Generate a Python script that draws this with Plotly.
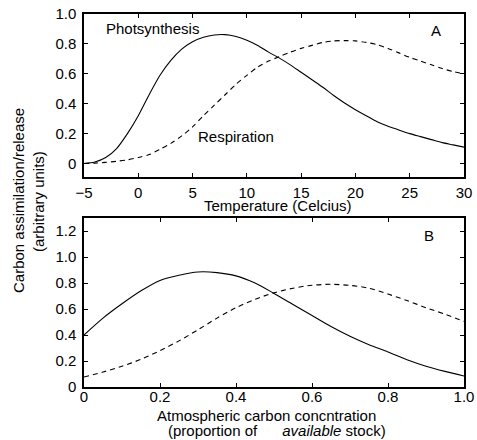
import plotly.graph_objects as go

# ---- Panel A data (temperature) ----
temperature = [-5, -4, -3, -2, -1, 0, 1, 2, 3, 4, 5, 6, 7, 8, 9, 10, 11, 12, 13, 14, 15,
               16, 17, 18, 19, 20, 21, 22, 23, 24, 25, 26, 27, 28, 29, 30]
photosynthesis_A = [0.0, 0.01, 0.04, 0.10, 0.20, 0.32, 0.46, 0.59, 0.69, 0.765, 0.815, 0.845,
                    0.86, 0.862, 0.85, 0.825, 0.79, 0.745, 0.705, 0.66, 0.61, 0.56, 0.51,
                    0.455, 0.405, 0.36, 0.32, 0.28, 0.25, 0.225, 0.20, 0.18, 0.16, 0.14,
                    0.125, 0.11]
respiration_A = [0.0, 0.003, 0.008, 0.015, 0.025, 0.04, 0.06, 0.095, 0.135, 0.185, 0.245,
                 0.32, 0.39, 0.46, 0.53, 0.59, 0.645, 0.685, 0.715, 0.745, 0.77, 0.79, 0.81,
                 0.82, 0.822, 0.82, 0.81, 0.795, 0.77, 0.74, 0.71, 0.685, 0.66, 0.635,
                 0.615, 0.60]

# ---- Panel B data (atmospheric carbon) ----
carbon = [0.0, 0.05, 0.1, 0.15, 0.2, 0.25, 0.3, 0.35, 0.4, 0.45, 0.5, 0.55, 0.6, 0.65,
          0.7, 0.75, 0.8, 0.85, 0.9, 0.95, 1.0]
photosynthesis_B = [0.40, 0.53, 0.64, 0.74, 0.82, 0.86, 0.885, 0.88, 0.855, 0.80, 0.72,
                    0.635, 0.55, 0.465, 0.39, 0.325, 0.27, 0.21, 0.16, 0.12, 0.085]
respiration_B = [0.077, 0.115, 0.16, 0.213, 0.28, 0.355, 0.44, 0.53, 0.61, 0.675, 0.725,
                 0.76, 0.783, 0.79, 0.782, 0.76, 0.715, 0.665, 0.61, 0.56, 0.505]

# ---- tick labels ----
xticks_A = [-5, 0, 5, 10, 15, 20, 25, 30]
xticklabels_A = ["\u22125", "0", "5", "10", "15", "20", "25", "30"]
yticks_A = [0, 0.2, 0.4, 0.6, 0.8, 1.0]
yticklabels_A = ["0", "0.2", "0.4", "0.6", "0.8", "1.0"]
xticks_B = [0, 0.2, 0.4, 0.6, 0.8, 1.0]
xticklabels_B = ["0", "0.2", "0.4", "0.6", "0.8", "1.0"]
yticks_B = [0, 0.2, 0.4, 0.6, 0.8, 1.0, 1.2]
yticklabels_B = ["0", "0.2", "0.4", "0.6", "0.8", "1.0", "1.2"]

FONT = "Liberation Sans, Arial, Helvetica, sans-serif"
solid = dict(color="black", width=1.1, shape="spline", smoothing=0.8)
dashed = dict(color="black", width=1.1, dash="5px,4px", shape="spline", smoothing=0.8)

fig = go.Figure()
fig.add_trace(go.Scatter(x=temperature, y=photosynthesis_A, mode="lines", line=solid,
                         xaxis="x", yaxis="y", showlegend=False))
fig.add_trace(go.Scatter(x=temperature, y=respiration_A, mode="lines", line=dashed,
                         xaxis="x", yaxis="y", showlegend=False))
fig.add_trace(go.Scatter(x=carbon, y=photosynthesis_B, mode="lines", line=solid,
                         xaxis="x2", yaxis="y2", showlegend=False))
fig.add_trace(go.Scatter(x=carbon, y=respiration_B, mode="lines", line=dashed,
                         xaxis="x2", yaxis="y2", showlegend=False))

axis_common = dict(showline=True, linecolor="black", linewidth=1.5, mirror="ticks",
                   ticks="inside", ticklen=4, tickwidth=1, tickcolor="black",
                   showgrid=False, zeroline=False, automargin=False,
                   ticklabeloverflow="allow",
                   tickfont=dict(family=FONT, size=15, color="black"))

fig.update_layout(
    width=477, height=440,
    margin=dict(l=84, r=13, t=14, b=53),
    paper_bgcolor="white", plot_bgcolor="white",
    font=dict(family=FONT, size=15, color="black"),
    xaxis=dict(axis_common, domain=[0, 1], range=[-5, 30], anchor="y",
               tickvals=xticks_A, ticktext=xticklabels_A, ticklabelstandoff=1),
    yaxis=dict(axis_common, domain=[0.563, 1.0], range=[-0.09, 1.0], anchor="x",
               tickvals=yticks_A, ticktext=yticklabels_A, ticklabelstandoff=3),
    xaxis2=dict(axis_common, domain=[0, 1], range=[0, 1.0], anchor="y2",
                tickvals=xticks_B, ticktext=xticklabels_B, ticklabelstandoff=-5),
    yaxis2=dict(axis_common, domain=[0, 0.453], range=[0, 1.3], anchor="x2",
                tickvals=yticks_B, ticktext=yticklabels_B, ticklabelstandoff=3),
)

C = dict(showarrow=False, xanchor="center", yanchor="middle")
ann = []
ann.append(dict(C, text="Photsynthesis", x=1.3, y=0.906, xref="x", yref="y"))
ann.append(dict(C, text="Respiration", x=9.0, y=0.184, xref="x", yref="y"))
ann.append(dict(C, text="A", x=27.4, y=0.893, xref="x", yref="y"))
ann.append(dict(C, text="B", x=0.908, y=1.167, xref="x2", yref="y2"))
ann.append(dict(C, text="Temperature (Celcius)", x=(278 - 84) / 380, y=(387 - 205) / 373,
                xref="paper", yref="paper"))
ann.append(dict(C, text="Atmospheric carbon concntration", x=(266 - 84) / 380,
                y=(387 - 415) / 373, xref="paper", yref="paper"))
ann.append(dict(C, text="(proportion of\u00a0\u00a0\u00a0\u00a0\u00a0\u00a0<i>available</i>\u00a0stock)",
                x=(277 - 84) / 380, y=(387 - 430) / 373, xref="paper", yref="paper"))
ann.append(dict(C, text="Carbon assimilation/release", x=(18 - 84) / 380, y=(387 - 201) / 373,
                xref="paper", yref="paper", textangle=-90))
ann.append(dict(C, text="(arbitrary units)", x=(38 - 84) / 380, y=(387 - 202) / 373,
                xref="paper", yref="paper", textangle=-90))
fig.update_layout(annotations=ann)

# remove the page's default 8px body margin so the figure fills the window exactly
fig.write_html("out.html",
               config={"displayModeBar": False},
               post_script="document.body.style.margin='0';document.body.style.overflow='hidden';")
